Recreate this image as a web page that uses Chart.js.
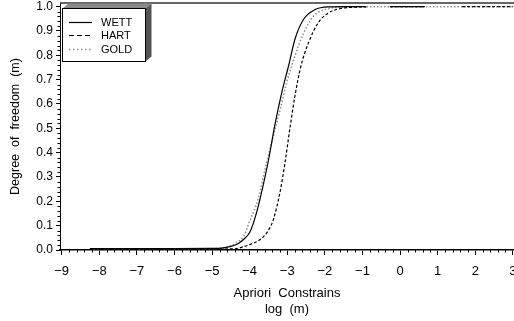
<!DOCTYPE html>
<html>
<head>
<meta charset="utf-8">
<script src="https://cdn.jsdelivr.net/npm/chart.js@4.4.1/dist/chart.umd.min.js"></script>
<style>
  html, body { margin: 0; padding: 0; background: #fff; overflow: hidden; }
  #wrap { width: 540px; height: 321px; }
</style>
</head>
<body>
<div id="wrap"><canvas id="c" width="540" height="321"></canvas></div>
<script>
// Tick values
const xTicks = [-9, -8, -7, -6, -5, -4, -3, -2, -1, 0, 1, 2, 3];
const yTicks = [0, 0.1, 0.2, 0.3, 0.4, 0.5, 0.6, 0.7, 0.8, 0.9, 1.0];

// Series (null = break in the curve)
const seriesNames = ['WETT', 'HART', 'GOLD'];

const wettX = [-8.25, -7, -6, -5, -4.75, -4.5, -4.3, -4.15, -3.99, -3.81, -3.64, -3.49, -3.33, -3.15, -2.97, -2.8, -2.57, -2.26, -1.91, -1.5, -0.9, -0.6, -0.27, 0.66];
const wettY = [0.006, 0.006, 0.006, 0.007, 0.008, 0.015, 0.027, 0.045, 0.075, 0.158, 0.267, 0.377, 0.514, 0.645, 0.754, 0.864, 0.947, 0.988, 0.999, 1.0, 1.0, null, 1.0, 1.0];

const hartX = [-8.25, -7, -6, -5, -4.39, -4.2, -3.95, -3.75, -3.59, -3.45, -3.37, -3.19, -3.06, -2.93, -2.8, -2.64, -2.44, -2.18, -1.91, -1.6, -1.2, -0.9, -0.6, -0.27, 0.66, 1.2, 1.65, 3.0];
const hartY = [0.004, 0.004, 0.004, 0.004, 0.005, 0.012, 0.025, 0.04, 0.062, 0.095, 0.125, 0.24, 0.36, 0.5, 0.63, 0.754, 0.85, 0.933, 0.974, 0.992, 0.998, 0.999, null, 1.0, 1.0, null, 1.0, 1.0];

const goldX = [-8.25, -7, -6, -5, -4.6, -4.39, -4.14, -4.04, -3.77, -3.55, -3.35, -3.19, -3.02, -2.8, -2.57, -2.31, -2.0, -1.5, -1.0, 0, 1, 2, 3.0];
const goldY = [0.005, 0.005, 0.005, 0.006, 0.012, 0.027, 0.062, 0.103, 0.213, 0.36, 0.48, 0.576, 0.686, 0.795, 0.89, 0.96, 0.988, 0.998, 1.0, 1.0, 1.0, 1.0, 1.0];

const pts = (xs, ys) => xs.map((x, i) => ({ x: x, y: ys[i] }));

const FONT = "'Liberation Sans', Arial, Helvetica, sans-serif";

function fmtX(v) {
  return v < 0 ? '\u2212' + Math.abs(v) : String(v);
}

// Small ticks between the labelled ones, plus the frame's top edge
const minorTicks = {
  id: 'minorTicks',
  afterDraw(chart) {
    const ctx = chart.ctx;
    const xs = chart.scales.x, ys = chart.scales.y;
    const a = chart.chartArea;
    ctx.save();
    ctx.strokeStyle = '#000';
    ctx.lineWidth = 1;
    ctx.beginPath();
    for (let i = 0; i <= 60; i++) {
      if (i % 5 === 0) continue;
      const px = Math.round(xs.getPixelForValue(-9 + i * 0.2)) + 0.5;
      ctx.moveTo(px, a.bottom);
      ctx.lineTo(px, a.bottom + 2.5);
    }
    for (let i = 0; i <= 50; i++) {
      if (i % 5 === 0) continue;
      const py = Math.round(ys.getPixelForValue(i * 0.02)) + 0.5;
      ctx.moveTo(a.left, py);
      ctx.lineTo(a.left - 2.5, py);
    }
    ctx.stroke();
    // top edge of the frame
    ctx.strokeStyle = '#333';
    ctx.lineWidth = 1.5;
    ctx.beginPath();
    ctx.moveTo(a.left, a.top);
    ctx.lineTo(a.right, a.top);
    ctx.stroke();
    ctx.restore();
  }
};

// Boxed legend with a raised 3-D edge
const boxLegend = {
  id: 'boxLegend',
  afterDraw(chart) {
    const ctx = chart.ctx;
    const x0 = 62.5, y0 = 8.5, x1 = 145.5, y1 = 61.5, dx = 6, dy = -5;
    ctx.save();
    // top face
    ctx.fillStyle = '#8a8a8a';
    ctx.beginPath();
    ctx.moveTo(x0, y0); ctx.lineTo(x0 + dx, y0 + dy); ctx.lineTo(x1 + dx, y0 + dy); ctx.lineTo(x1, y0);
    ctx.closePath(); ctx.fill();
    // side face
    ctx.fillStyle = '#555';
    ctx.beginPath();
    ctx.moveTo(x1, y0); ctx.lineTo(x1 + dx, y0 + dy); ctx.lineTo(x1 + dx, y1 + dy); ctx.lineTo(x1, y1);
    ctx.closePath(); ctx.fill();
    // front face
    ctx.fillStyle = '#fff';
    ctx.fillRect(x0, y0, x1 - x0, y1 - y0);
    ctx.strokeStyle = '#000';
    ctx.lineWidth = 1;
    ctx.strokeRect(x0, y0, x1 - x0, y1 - y0);

    const rows = [22.5, 35.5, 49.5];
    const dashes = [[], [5, 3], [1.5, 2.5]];
    ctx.font = '11px ' + FONT;
    ctx.textBaseline = 'middle';
    chart.data.datasets.forEach((ds, i) => {
      const y = rows[i];
      ctx.strokeStyle = ds.borderColor;
      ctx.lineWidth = ds.borderWidth;
      ctx.setLineDash(dashes[i]);
      ctx.beginPath();
      ctx.moveTo(69, y); ctx.lineTo(92, y);
      ctx.stroke();
      ctx.setLineDash([]);
      ctx.fillStyle = '#000';
      ctx.fillText(ds.label, 101, y + 0.5);
    });
    ctx.restore();
  }
};

new Chart(document.getElementById('c'), {
  type: 'line',
  data: {
    datasets: [
      { label: seriesNames[0], data: pts(wettX, wettY), borderColor: '#000', borderWidth: 1.2 },
      { label: seriesNames[1], data: pts(hartX, hartY), borderColor: '#000', borderWidth: 1.2, borderDash: [3, 2] },
      { label: seriesNames[2], data: pts(goldX, goldY), borderColor: '#8c8c8c', borderWidth: 1.5, borderDash: [1.5, 2] }
    ]
  },
  options: {
    responsive: false,
    animation: false,
    devicePixelRatio: 1,
    elements: {
      point: { radius: 0 },
      line: { cubicInterpolationMode: 'monotone', fill: false }
    },
    layout: { padding: { left: 0, top: 3, right: 26, bottom: 0 } },
    plugins: { legend: { display: false }, tooltip: { enabled: false } },
    scales: {
      x: {
        type: 'linear',
        min: -9.045, max: 3.03,
        afterBuildTicks: s => { s.ticks = xTicks.map(v => ({ value: v })); },
        afterFit: s => { s.height = 71; s.paddingLeft = 0; s.paddingRight = 0; },
        ticks: {
          includeBounds: false,
          autoSkip: false,
          maxRotation: 0,
          padding: 9,
          color: '#000',
          font: { family: FONT, size: 13 },
          callback: v => fmtX(v)
        },
        grid: { drawOnChartArea: false, tickLength: 5, color: '#000', tickWidth: 1 },
        border: { display: true, color: '#000', width: 1.5 },
        title: {
          display: true,
          text: ['Apriori  Constrains', 'log  (m)'],
          color: '#000',
          font: { family: FONT, size: 13, lineHeight: 1.23 },
          padding: { top: 0, bottom: 4 }
        }
      },
      y: {
        type: 'linear',
        min: 0, max: 1.015,
        afterBuildTicks: s => { s.ticks = yTicks.map(v => ({ value: v })); },
        afterFit: s => { s.width = 60; s.paddingTop = 0; s.paddingBottom = 0; },
        ticks: {
          includeBounds: false,
          padding: 3,
          color: '#000',
          font: { family: FONT, size: 12 },
          callback: v => v.toFixed(1)
        },
        grid: { drawOnChartArea: false, tickLength: 4, color: '#000', tickWidth: 1 },
        border: { display: true, color: '#000', width: 1 },
        title: {
          display: true,
          text: 'Degree  of  freedom  (m)',
          color: '#000',
          font: { family: FONT, size: 12.5, lineHeight: 1.2 },
          padding: { top: 8, bottom: 0 }
        }
      }
    }
  },
  plugins: [minorTicks, boxLegend]
});
</script>
</body>
</html>
